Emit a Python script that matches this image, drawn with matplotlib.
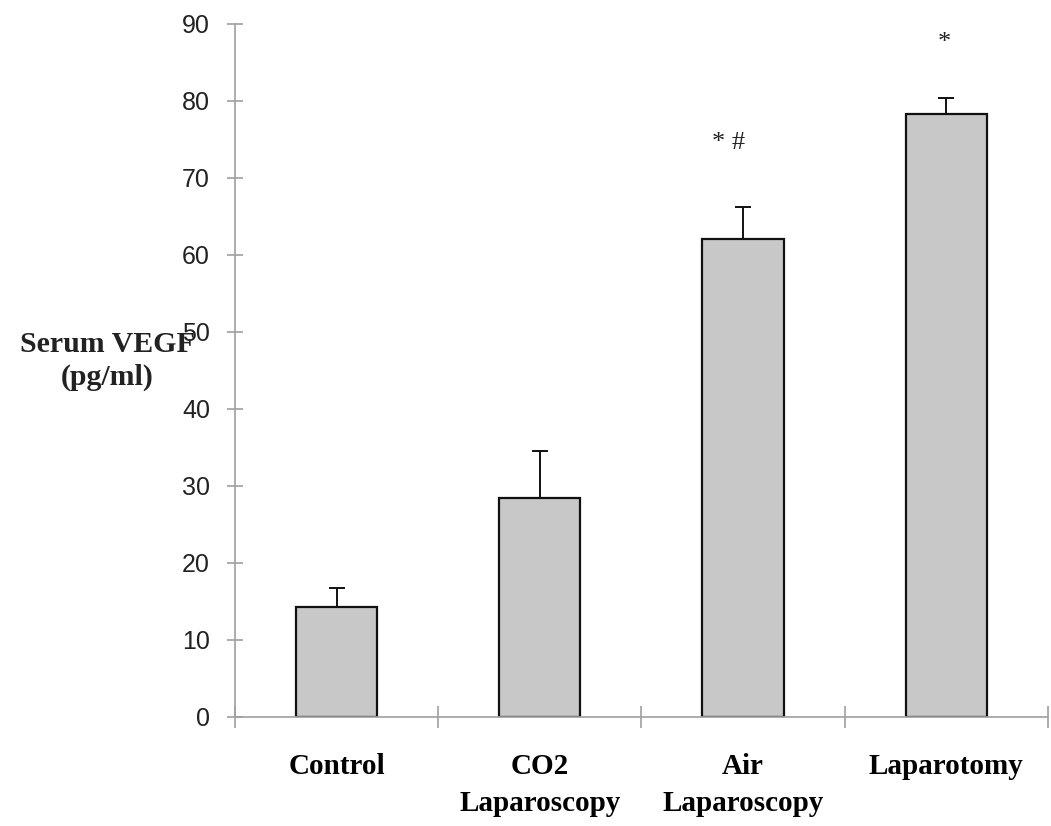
import matplotlib.pyplot as plt
import numpy as np

groups = ['Control', 'CO2\nLaparoscopy', 'Air\nLaparoscopy', 'Laparotomy']
vegf_mean = [14.3, 28.5, 62.1, 78.3]
vegf_sem = [2.4, 6.0, 4.1, 2.1]
marks = ['', '', '* #', '*']
mark_y = [0, 0, 74.6, 87.5]

fig = plt.figure(figsize=(10.51, 8.26), dpi=100)
ax = fig.add_axes([0.2236, 0.132, 0.7734, 0.839])

x = np.arange(len(groups))
ax.bar(x, vegf_mean, width=0.4, color='#c8c8c8', edgecolor='#111111',
       linewidth=1.6, zorder=2)
ax.errorbar(x, vegf_mean, yerr=[np.zeros(len(x)), vegf_sem], fmt='none',
            ecolor='#111111', elinewidth=1.4, capsize=5.5, capthick=1.4,
            zorder=1)

for xi, m, my in zip(x, marks, mark_y):
    if m:
        ax.text(xi - (0.07 if '#' in m else 0.01), my, m, ha='center', va='center',
                fontsize=19, family='Liberation Serif', color='#222222')

ax.set_xlim(-0.5, 3.5)
ax.set_ylim(0, 90)
ax.set_yticks(np.arange(0, 91, 10))
ax.set_xticks(x)
ax.set_xticklabels(groups, family='Liberation Serif', fontweight='bold',
                   fontsize=21, linespacing=1.45)
ax.set_xticks(np.arange(-0.5, 4, 1), minor=True)

for s in ['top', 'right']:
    ax.spines[s].set_visible(False)
for s in ['left', 'bottom']:
    ax.spines[s].set_color('#a0a0a0')
    ax.spines[s].set_linewidth(1.2)

ax.tick_params(axis='x', which='major', length=0, pad=26)
ax.tick_params(axis='x', which='minor', direction='inout', length=16,
               color='#a0a0a0', width=1.2)
ax.tick_params(axis='y', direction='inout', length=12, color='#a0a0a0',
               width=1.2, pad=12, labelsize=18, labelcolor='#222222')
for lab in ax.get_yticklabels():
    lab.set_family('Liberation Sans')

fig.text(107 / 1051, 1 - 361 / 826, 'Serum VEGF\n(pg/ml)', ha='center',
         va='center', family='Liberation Serif', fontweight='bold',
         fontsize=21.5, linespacing=1.3, color='#222222', zorder=5)

fig.savefig('out.png', dpi=100)
